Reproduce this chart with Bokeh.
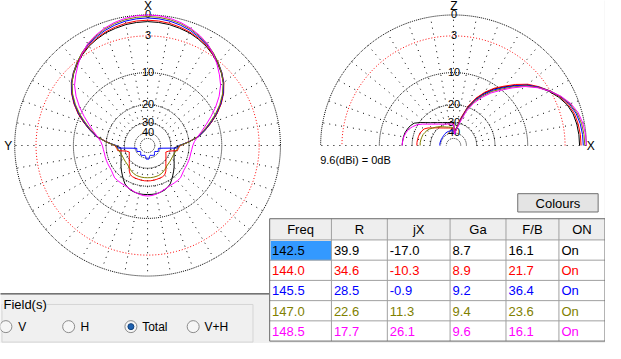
import numpy as np
from bokeh.plotting import figure
from bokeh.models import Range1d
from bokeh.embed import file_html
from bokeh.resources import INLINE
from bokeh.core.properties import value

# ---------------- data ----------------
FREQS = ["142.5", "144.0", "145.5", "147.0", "148.5"]
R_OHM = ["39.9", "34.6", "28.5", "22.6", "17.7"]
JX_OHM = ["-17.0", "-10.3", "-0.9", "11.3", "26.1"]
GA_DBI = ["8.7", "8.9", "9.2", "9.4", "9.6"]
FB_DB = ["16.1", "21.7", "36.4", "23.6", "16.1"]
ON_STATE = ["On", "On", "On", "On", "On"]
HEADERS = ["Freq", "R", "jX", "Ga", "F/B", "ON"]
SERIES_COLORS = ["#000000", "#ff0000", "#0000ff", "#808000", "#ff00ff"]
ZERO_DB_REF = "9.6(dBi) = 0dB"
RING_DB = [0, -3, -10, -20, -30, -40, -50]
RING_LABELS = ["0", "3", "10", "20", "30", "40", ""]
FIELD_OPTIONS = ["V", "H", "Total", "V+H"]
FIELD_SELECTED = "Total"

# azimuth pattern (dB rel. 9.6 dBi), angle from X axis, 0..180 (symmetric)
AZ_ANGLES = list(range(0, 181, 5))
AZ_1425 = [-0.9, -0.95, -1.05, -1.25, -1.45, -1.8, -2.2, -2.75, -3.4, -4.15, -5.05, -6.25, -7.75, -9.5,
           -11.6, -13.8, -16.1, -20.1, -24.2, -27.4, -27.4, -27.0, -26.6, -26.0, -25.2, -24.2, -23.1,
           -22.0, -20.9, -19.7, -18.5, -17.8, -17.3, -17.0, -16.8, -16.8, -16.8]
AZ_1440 = [-0.7, -0.75, -0.87, -1.07, -1.32, -1.67, -2.1, -2.65, -3.3, -4.05, -4.95, -6.15, -7.65, -9.45,
           -11.6, -13.9, -16.3, -20.3, -24.0, -25.0, -25.4, -30.9, -33.0, -32.3, -31.5, -30.6, -29.4,
           -28.1, -26.4, -24.5, -23.2, -22.8, -22.7, -22.6, -22.5, -22.4, -22.4]
AZ_1455 = [-0.4, -0.45, -0.57, -0.8, -1.1, -1.5, -1.95, -2.55, -3.25, -4.05, -5.0, -6.25, -7.8, -9.65,
           -11.8, -14.0, -16.4, -20.0, -24.8, -25.6, -36.6, -42.5, -42.0, -41.5, -41.0, -43.4, -45.4,
           -44.9, -43.2, -41.3, -41.9, -42.6, -43.2, -43.9, -42.3, -38.7, -38.7]
AZ_1470 = [-0.2, -0.25, -0.38, -0.6, -0.93, -1.35, -1.85, -2.5, -3.25, -4.1, -5.1, -6.4, -8.0, -9.9,
           -12.1, -14.3, -16.6, -19.8, -24.5, -25.3, -26.0, -26.6, -27.0, -27.1, -27.1, -27.0, -26.9,
           -26.7, -26.2, -25.6, -25.0, -24.5, -24.2, -24.1, -24.0, -24.0, -24.0]
AZ_1485 = [0.0, -0.05, -0.2, -0.45, -0.8, -1.25, -1.8, -2.6, -3.55, -4.6, -5.7, -7.2, -9.0, -11.0,
           -13.0, -14.8, -16.5, -17.8, -18.5, -18.8, -19.0, -19.0, -19.0, -19.0, -19.0, -18.9, -18.5,
           -18.0, -18.0, -18.0, -18.0, -17.8, -17.5, -17.1, -16.7, -16.4, -16.3]

# elevation pattern (dB rel. 9.6 dBi), elevation angle from X (0) over Z (90) to back (180)
EL_ANGLES = list(range(0, 181, 5))
EL_1425 = [-0.9, -0.93, -1.02, -1.2, -1.6, -2.3, -3.2, -4.3, -5.6, -7.35, -9.2, -10.95, -13.2, -16.0,
           -20.0, -26.5, -34.0, -40.0, -29.9, -29.8, -29.6, -29.2, -28.8, -28.2, -27.4, -26.5, -25.3,
           -24.0, -22.3, -20.3, -18.4, -17.6, -17.1, -16.7, -16.5, -16.4, -16.3]
EL_1440 = [-0.7, -0.73, -0.83, -1.02, -1.45, -2.15, -3.05, -4.15, -5.4, -7.1, -8.95, -10.7, -12.9, -15.7,
           -19.6, -25.8, -34.0, -40.0, -34.5, -34.4, -34.2, -33.9, -33.4, -32.8, -32.0, -31.0, -29.8,
           -28.4, -26.9, -24.9, -23.5, -22.9, -22.5, -22.3, -22.2, -22.1, -22.1]
EL_1455 = [-0.4, -0.44, -0.56, -0.8, -1.28, -2.05, -3.05, -4.25, -5.65, -7.5, -9.45, -11.3, -13.6, -16.5,
           -20.6, -27.2, -35.0, -41.0, -37.5, -37.4, -37.3, -37.2, -37.2, -37.3, -37.5, -37.8, -38.2,
           -38.5, -38.8, -38.9, -39.0, -39.0, -39.0, -39.0, -38.9, -38.9, -38.9]
EL_1470 = [-0.2, -0.25, -0.38, -0.65, -1.18, -2.0, -3.05, -4.35, -5.85, -7.8, -9.8, -11.7, -14.1, -17.0,
           -21.2, -28.0, -35.0, -41.0, -34.0, -33.8, -33.5, -33.0, -32.5, -31.7, -30.8, -29.8, -28.8,
           -27.9, -27.0, -26.0, -25.2, -24.7, -24.2, -24.0, -23.8, -23.7, -23.7]
EL_1485 = [0.0, -0.05, -0.2, -0.5, -1.07, -1.95, -3.1, -4.45, -6.05, -8.1, -10.2, -12.2, -14.7, -17.7,
           -22.0, -29.5, -36.0, -42.0, -31.0, -30.9, -30.8, -30.4, -30.0, -29.4, -28.6, -27.6, -26.5,
           -25.1, -23.5, -21.5, -19.7, -18.5, -17.5, -17.0, -16.6, -16.4, -16.3]

AZ_SERIES = [AZ_1425, AZ_1440, AZ_1455, AZ_1470, AZ_1485]
EL_SERIES = [EL_1425, EL_1440, EL_1455, EL_1470, EL_1485]

# ---------------- layout (reference pixel space) ----------------
AZ_CX, AZ_CY = 152.0, 151.5
EL_CX, EL_CY = 464.0, 151.5
R0 = 135.5
FONT = value("Liberation Sans")
GRAY = "#f0f0f0"


def rho(db):
    """ARRL log scale: 2 dB per 0.89 step."""
    return R0 * 0.89 ** (-np.asarray(db, dtype=float) / 2.0)


p = figure(width=605, height=343, x_range=Range1d(2, 619), y_range=Range1d(357, 1),
           output_backend="svg", toolbar_location=None, min_border=0,
           x_axis_location=None, y_axis_location=None)
p.grid.visible = False
p.outline_line_color = None
p.background_fill_color = "white"
p.border_fill_color = "white"

# gray panels
p.quad(left=[0, 618], right=[276, 621], top=[305.5, 0], bottom=[359, 359], fill_color=GRAY, line_color=None)
p.quad(left=[276], right=[621], top=[354.5], bottom=[359], fill_color=GRAY, line_color=None)
p.segment(x0=[0], y0=[305.5], x1=[276], y1=[305.5], line_color="#202020", line_width=1)

# ---------------- polar grids ----------------
full = np.radians(np.arange(0, 361, 1))
half = np.radians(np.arange(0, 181, 1))
for db in RING_DB:
    r = float(rho(db))
    col = "#ff0000" if db == -3 else "#000000"
    dash = "1 2" if db == -3 else "1 1"
    p.line(AZ_CX + r * np.cos(full), AZ_CY + r * np.sin(full), line_color=col, line_dash=dash, line_width=1)
    p.line(EL_CX + r * np.cos(half), EL_CY - r * np.sin(half), line_color=col, line_dash=dash, line_width=1)

r_in = float(rho(-30))
sp = np.radians(np.arange(0, 360, 10))
p.segment(x0=AZ_CX + r_in * np.cos(sp), y0=AZ_CY + r_in * np.sin(sp),
          x1=AZ_CX + R0 * np.cos(sp), y1=AZ_CY + R0 * np.sin(sp),
          line_color="black", line_dash="1 5", line_width=1)
sp2 = np.radians(np.arange(0, 181, 10))
p.segment(x0=EL_CX + r_in * np.cos(sp2), y0=EL_CY - r_in * np.sin(sp2),
          x1=EL_CX + R0 * np.cos(sp2), y1=EL_CY - R0 * np.sin(sp2),
          line_color="black", line_dash="1 5", line_width=1)

# ring labels
lab_db = [d for d, l in zip(RING_DB, RING_LABELS) if l]
lab_tx = [l for l in RING_LABELS if l]
lab_y = list(AZ_CY - rho(lab_db) - 1)
p.text(x=[AZ_CX + 0.5] * len(lab_tx) + [EL_CX + 0.5] * len(lab_tx), y=lab_y + lab_y,
       text=lab_tx + lab_tx, text_font=FONT, text_font_size="11px",
       text_align="center", text_baseline="middle", text_color="black")
p.text(x=[152.5, 10, 464.5, 604], y=[6.5, 151.5, 6.5, 151.5], text=["X", "Y", "Z", "X"],
       text_font=FONT, text_font_size="12px", text_align="center", text_baseline="middle",
       text_color="black")
p.text(x=[328], y=[167], text=[ZERO_DB_REF], text_font=FONT, text_font_size="11px",
       text_align="left", text_baseline="middle", text_color="black")

# ---------------- pattern curves ----------------
az_t = np.radians(AZ_ANGLES)
az_full_t = np.concatenate([-az_t[::-1], az_t[1:]])
el_t = np.radians(EL_ANGLES)
for az, el, col in zip(AZ_SERIES, EL_SERIES, SERIES_COLORS):
    a = np.asarray(az, dtype=float)
    a_full = np.concatenate([a[::-1], a[1:]])
    r = rho(a_full)
    p.line(AZ_CX + r * np.sin(az_full_t), AZ_CY - r * np.cos(az_full_t), line_color=col, line_width=1)
    re = rho(el)
    p.line(EL_CX + re * np.cos(el_t), EL_CY - re * np.sin(el_t), line_color=col, line_width=1)

# ---------------- Colours button ----------------
p.quad(left=[529.5], right=[611.5], top=[201.5], bottom=[220.5], fill_color="#e4e4e4",
       line_color="#707070", line_width=1)
p.text(x=[570.5], y=[211.5], text=["Colours"], text_font=FONT, text_font_size="13px",
       text_align="center", text_baseline="middle", text_color="black")

# ---------------- table ----------------
COL_X = [276.5, 339.5, 396.5, 460.5, 517.5, 571.5, 618.5]
ROW_Y = [227.5, 249.5, 270.5, 291.5, 312.5, 333.5, 354.5]
p.quad(left=[COL_X[0]], right=[COL_X[-1]], top=[ROW_Y[0]], bottom=[ROW_Y[1]],
       fill_color="#eeeeee", line_color=None)
p.quad(left=[COL_X[0]], right=[COL_X[-1]], top=[ROW_Y[1]], bottom=[ROW_Y[-1]],
       fill_color="white", line_color=None)
p.quad(left=[COL_X[0] + 1], right=[COL_X[1]], top=[ROW_Y[1] + 1], bottom=[ROW_Y[2]],
       fill_color="#3399ff", line_color=None)
p.segment(x0=COL_X[1:-1], y0=[ROW_Y[0]] * 5, x1=COL_X[1:-1], y1=[ROW_Y[-1]] * 5,
          line_color="#a0a0a0", line_width=1)
p.segment(x0=[COL_X[0]] * 5, y0=ROW_Y[1:-1], x1=[COL_X[-1]] * 5, y1=ROW_Y[1:-1],
          line_color="#a0a0a0", line_width=1)
p.quad(left=[COL_X[0]], right=[COL_X[-1]], top=[ROW_Y[0]], bottom=[ROW_Y[-1]],
       fill_alpha=0, line_color="#696969", line_width=1)

hx = [(COL_X[i] + COL_X[i + 1]) / 2 for i in range(6)]
p.text(x=hx, y=[(ROW_Y[0] + ROW_Y[1]) / 2 + 0.5] * 6, text=HEADERS, text_font=FONT,
       text_font_size="13px", text_align="center", text_baseline="middle", text_color="black")

cols = [FREQS, R_OHM, JX_OHM, GA_DBI, FB_DB, ON_STATE]
tx, ty, tt, tc = [], [], [], []
for ri in range(5):
    for ci in range(6):
        tx.append(COL_X[ci] + 2.5)
        ty.append((ROW_Y[ri + 1] + ROW_Y[ri + 2]) / 2 + 0.5)
        tt.append(cols[ci][ri])
        tc.append(SERIES_COLORS[ri])
p.text(x=tx, y=ty, text=tt, text_color=tc, text_font=FONT, text_font_size="13px",
       text_align="left", text_baseline="middle")

# ---------------- Field(s) group ----------------
p.quad(left=[3.5], right=[259.5], top=[316.5], bottom=[355.5], fill_alpha=0,
       line_color="#d5d5d5", line_width=1)
p.quad(left=[4], right=[49], top=[310], bottom=[323], fill_color=GRAY, line_color=None)
p.text(x=[5], y=[316.5], text=["Field(s)"], text_font=FONT, text_font_size="13px",
       text_align="left", text_baseline="middle", text_color="black")
RADIO_X = [7.5, 71.5, 135.0, 198.5]
LABEL_X = [20.0, 83.5, 146.5, 210.0]
p.scatter(x=RADIO_X, y=[339.5] * 4, marker="circle", size=12, fill_color="#f6f6f6",
          line_color="#8c8c8c", line_width=1)
sel = [x for x, o in zip(RADIO_X, FIELD_OPTIONS) if o == FIELD_SELECTED]
p.scatter(x=sel, y=[339.5] * len(sel), marker="circle", size=6, fill_color="#1f62b0",
          line_color="#0f3f7a", line_width=1)
p.text(x=LABEL_X, y=[340] * 4, text=FIELD_OPTIONS, text_font=FONT, text_font_size="12px",
       text_align="left", text_baseline="middle", text_color="black")

open("out.html", "w").write(file_html(p, INLINE))
